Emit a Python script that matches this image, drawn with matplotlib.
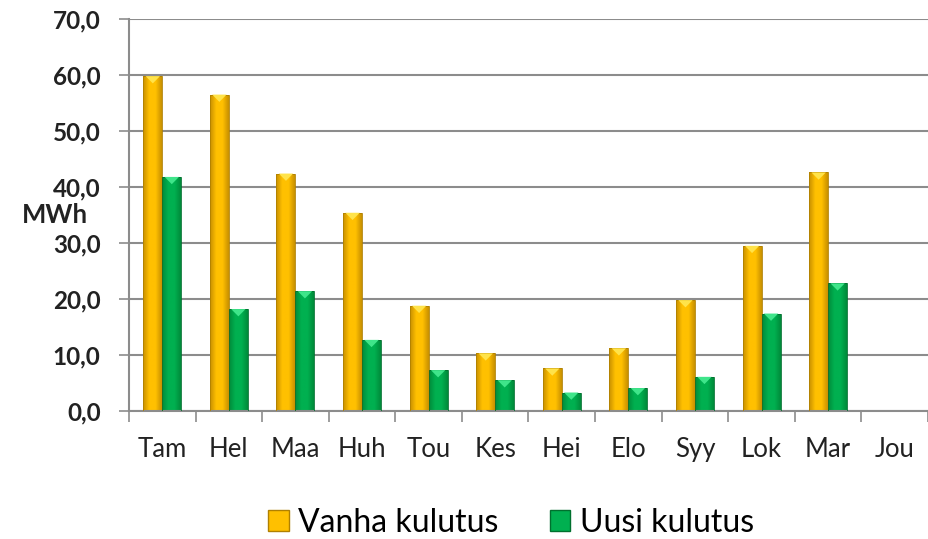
import numpy as np
import matplotlib
matplotlib.use("Agg")
import matplotlib.pyplot as plt
from matplotlib.patches import Rectangle, Polygon
from matplotlib.colors import LinearSegmentedColormap

months = ["Tam", "Hel", "Maa", "Huh", "Tou", "Kes", "Hei", "Elo", "Syy", "Lok", "Mar", "Jou"]
vanha = [59.8, 56.5, 42.4, 35.4, 18.8, 10.3, 7.6, 11.2, 19.8, 29.5, 42.6, np.nan]
uusi = [41.8, 18.2, 21.4, 12.7, 7.3, 5.5, 3.3, 4.1, 6.1, 17.4, 22.8, np.nan]
yticks = [0, 10, 20, 30, 40, 50, 60, 70]
ylabels = ["0,0", "10,0", "20,0", "30,0", "40,0", "50,0", "60,0", "70,0"]
series_names = ["Vanha kulutus", "Uusi kulutus"]

plt.rcParams['font.family'] = ['Lato', 'DejaVu Sans']

fig = plt.figure(figsize=(9.29, 5.39), dpi=100)
ax = fig.add_axes([129/929, 1-411/539, (928-129)/929, (411-19)/539])

x = np.arange(len(months))
w = 0.285

styles = [
    dict(base="#FFC000", dark="#C89000", light="#FFE34A", edge="#B08000"),
    dict(base="#00B050", dark="#008A3A", light="#3FE58A", edge="#00702E"),
]

def draw_bar(ax, xc, h, st):
    if np.isnan(h):
        return
    x0 = xc - w/2
    cmap = LinearSegmentedColormap.from_list("g", [st["dark"], st["base"], st["base"], st["dark"]])
    grad = np.linspace(0, 1, 64).reshape(1, -1)
    rect = Rectangle((x0, 0), w, h, facecolor="none", edgecolor=st["edge"], lw=0.6, zorder=3)
    ax.add_patch(rect)
    im = ax.imshow(grad, cmap=cmap, extent=(x0, x0+w, 0, h), aspect="auto", zorder=2.5, interpolation="bilinear")
    im.set_clip_path(rect)
    tri = Polygon([(x0 + w*0.12, h), (x0 + w*0.88, h), (xc, h - 1.3)], closed=True,
                  facecolor=st["light"], edgecolor="none", zorder=3.2)
    ax.add_patch(tri)

for i in range(len(months)):
    draw_bar(ax, x[i] - w/2, vanha[i], styles[0])
    draw_bar(ax, x[i] + w/2, uusi[i], styles[1])

ax.set_xlim(-0.5, len(months) - 0.5)
ax.set_ylim(0, 70)
ax.set_yticks(yticks)
ax.set_yticklabels(ylabels, fontsize=17.5, fontweight="bold", color="#222222")
ax.set_xticks(x)
ax.set_xticklabels(months, fontsize=18.5, color="#222222")
ax.set_xticks(np.arange(-0.5, len(months), 1), minor=True)
ax.tick_params(axis="x", which="major", length=0, pad=19)
ax.tick_params(axis="x", which="minor", length=8, width=1.2, color="#8c8c8c")
ax.tick_params(axis="y", length=7.5, width=1.2, color="#8c8c8c", pad=13)
ax.grid(axis="y", color="#8c8c8c", lw=1.5, zorder=0)
ax.set_axisbelow(True)
for s in ["top", "right"]:
    ax.spines[s].set_visible(False)
for s in ["left", "bottom"]:
    ax.spines[s].set_color("#8c8c8c")
    ax.spines[s].set_linewidth(1.5)

fig.text(55/929, 1-215/539, "MWh", ha="center", va="center", fontsize=18.5, fontweight="bold", color="#222222")

handles = [Rectangle((0, 0), 1, 1, facecolor=styles[k]["base"], edgecolor=styles[k]["edge"]) for k in range(2)]
fig.legend(handles, series_names, loc="center", bbox_to_anchor=(511/929, 1-523/539), ncol=2,
           frameon=False, fontsize=23, handlelength=0.65, handleheight=0.65, handletextpad=0.3,
           columnspacing=1.6)

fig.savefig("out.png", dpi=100, facecolor="white")
